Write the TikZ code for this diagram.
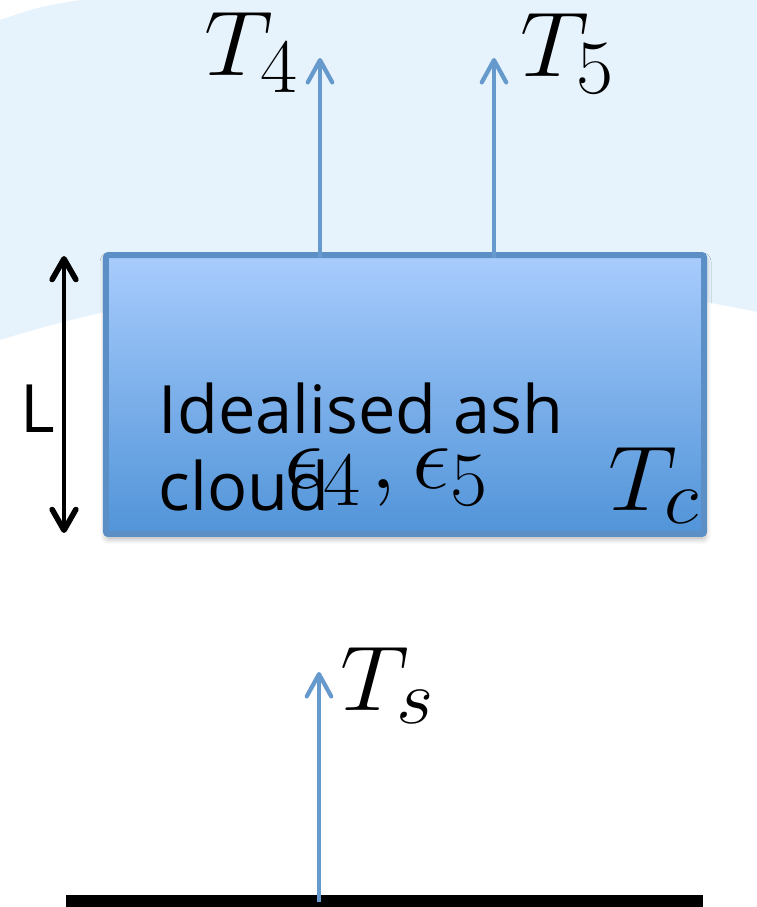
\documentclass[tikz,border=0pt]{standalone}
\usepackage{fontspec}
\newfontfamily\labelfont{Open Sans}
\usetikzlibrary{arrows.meta,shadows.blur}
\definecolor{skyblue}{HTML}{E7F3FC}
\definecolor{fluxblue}{HTML}{6699CC}
\definecolor{boxedge}{HTML}{5C8FC6}
\definecolor{boxtop}{HTML}{A8CCFD}
\definecolor{boxbottom}{HTML}{5194D8}
\begin{document}
\begin{tikzpicture}[x=0.27pt,y=-0.27pt,
  barb/.tip={Straight Barb[length=6pt,width=6.6pt,round]},
  boldbarb/.tip={Straight Barb[length=5.6pt,width=6.4pt,round,line width=1.5pt]},
  flux/.style={draw=fluxblue,line width=1.15pt,-barb},
  dimline/.style={draw=black,line width=1.1pt,boldbarb-boldbarb},
  mathlabel/.style={inner sep=0pt,anchor=base west,font=\Huge,xscale=1.05,transform shape},
  textlabel/.style={inner sep=0pt,anchor=base west,font=\labelfont\fontsize{18}{21}\selectfont},
  cloudbox/.style={draw=boxedge,line width=1.6pt,top color=boxtop,bottom color=boxbottom,
    rounded corners=0.6pt,minimum width=161.5pt,minimum height=75.3pt,inner sep=0pt,
    blur shadow={shadow xshift=0.15pt,shadow yshift=-1.1pt,shadow blur steps=6,shadow opacity=35}},
]
\useasboundingbox (0,0) rectangle (757,907);

% sky above the curved horizon
\fill[skyblue] (80,0) .. controls (38,7) .. (0,20) -- (0,340)
  .. controls (250,262) and (520,262) .. (757,312) -- (757,0) -- cycle;

% ground surface
\node[fill=black,inner sep=0pt,minimum width=171.99pt,minimum height=5.4pt] (ground) at (384.5,905) {};

% the ash cloud layer
\node[cloudbox] (cloud) at (405,394.5) {};

% radiance leaving the top of the cloud
\coordinate (t4tip) at (320,58);
\coordinate (t5tip) at (494,58);
\draw[flux] ([yshift=-1.5pt]cloud.north -| t4tip) -- (t4tip);
\draw[flux] ([yshift=-1.5pt]cloud.north -| t5tip) -- (t5tip);

% radiance from the surface
\coordinate (tstip) at (319,672);
\coordinate (tsbase) at (319,902);
\draw[flux] (tsbase) -- (tstip);

% cloud thickness
\coordinate (ltop) at (64,256);
\coordinate (lbot) at (64,533);
\draw[dimline] (ltop) -- (lbot);
\node[textlabel] (lname) at (20,432) {L};

% labels
\node[mathlabel] (t4) at (204,75) {$T_4$};
\node[mathlabel] (t5) at (520,76) {$T_5$};
\node[mathlabel] (ts) at (340,710) {$T_s$};
\node[mathlabel] (tc) at (608,510) {$T_c$};
\node[mathlabel] (eps) at (284,488) {$\epsilon_4\mkern1.5mu,\epsilon_5$};
\node[textlabel] (name1) at (158,433) {Idealised ash};
\node[textlabel] (name2) at (158,510) {cloud};
\end{tikzpicture}
\end{document}
